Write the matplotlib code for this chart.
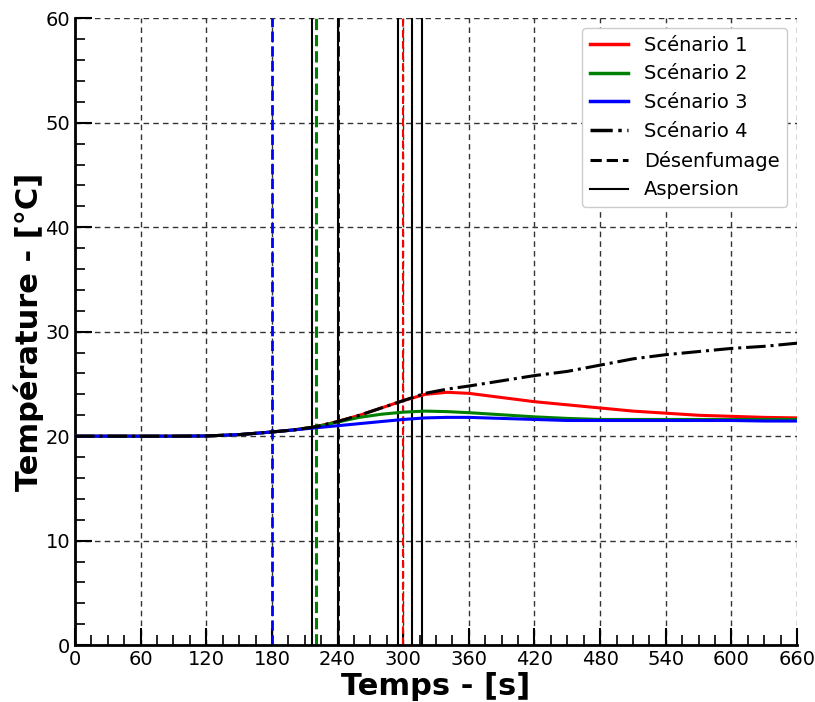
import matplotlib
matplotlib.use("Agg")
import matplotlib.pyplot as plt
import numpy as np
from matplotlib.ticker import MultipleLocator

# temps (s)
temps = [0, 30, 60, 90, 120, 150, 180, 200, 220, 240, 260, 280, 300, 320,
         340, 360, 390, 420, 450, 480, 510, 540, 570, 600, 630, 660]

# températures (°C)
scen1 = [20, 20, 20, 20, 20.02, 20.15, 20.4, 20.6, 20.9, 21.4, 22.0, 22.7, 23.4, 24.0,
         24.2, 24.1, 23.7, 23.3, 23.0, 22.7, 22.4, 22.2, 22.0, 21.9, 21.8, 21.75]
scen2 = [20, 20, 20, 20, 20.02, 20.15, 20.4, 20.6, 20.9, 21.35, 21.8, 22.1, 22.3, 22.4,
         22.35, 22.25, 22.05, 21.85, 21.7, 21.6, 21.6, 21.6, 21.6, 21.6, 21.6, 21.6]
scen3 = [20, 20, 20, 20, 20.02, 20.15, 20.4, 20.6, 20.8, 21.0, 21.2, 21.4, 21.6, 21.75,
         21.8, 21.8, 21.7, 21.6, 21.5, 21.5, 21.5, 21.5, 21.5, 21.5, 21.45, 21.45]
scen4 = [20, 20, 20, 20, 20.02, 20.15, 20.4, 20.6, 20.9, 21.4, 22.0, 22.7, 23.4, 24.1,
         24.5, 24.8, 25.3, 25.8, 26.2, 26.8, 27.4, 27.8, 28.1, 28.4, 28.6, 28.9]

# instants de désenfumage (s), couleurs et épaisseurs associées
t_desenf = [300, 220, 180, 240]
c_desenf = ['red', 'green', 'blue', 'black']
lw_desenf = [1.5, 2.2, 2, 2]
# instants d'aspersion (s)
t_asp = [217, 240, 295, 308, 317]

fig = plt.figure(figsize=(8.15, 7.02), dpi=100)
ax = fig.add_axes([0.092, 0.081, 0.886, 0.893])

for t in t_asp:
    ax.axvline(t, color='k', lw=1.5, zorder=2)
for t, c, w in zip(t_desenf, c_desenf, lw_desenf):
    ax.axvline(t, color=c, lw=w, ls='--', zorder=2)

ax.plot(temps, scen1, color='red', lw=2.2, zorder=3, label='Scénario 1')
ax.plot(temps, scen2, color='green', lw=2.2, zorder=3, label='Scénario 2')
ax.plot(temps, scen3, color='blue', lw=2.2, zorder=3, label='Scénario 3')
ax.plot(temps, scen4, color='k', lw=2.2, ls='-.', zorder=4, label='Scénario 4')
ax.plot([], [], color='k', lw=2.2, ls='--', label='Désenfumage')
ax.plot([], [], color='k', lw=1.5, label='Aspersion')

ax.set_xlim(0, 660)
ax.set_ylim(0, 60)
ax.xaxis.set_major_locator(MultipleLocator(60))
ax.xaxis.set_minor_locator(MultipleLocator(15))
ax.yaxis.set_major_locator(MultipleLocator(10))
ax.yaxis.set_minor_locator(MultipleLocator(2))

ax.grid(True, which='major', color='0.2', ls=(0, (4, 3)), lw=1, zorder=1)

ax.spines['top'].set_visible(False)
ax.spines['right'].set_visible(False)
ax.spines['left'].set_linewidth(2)
ax.spines['bottom'].set_linewidth(2)
ax.tick_params(which='major', direction='in', length=12, width=1.5, labelsize=14,
               top=False, right=False)
ax.tick_params(which='minor', direction='in', length=7, width=1.2,
               top=False, right=False)

ax.set_xlabel('Temps - [s]', fontsize=22, fontweight='bold', labelpad=2)
ax.set_ylabel('Température - [°C]', fontsize=22, fontweight='bold', labelpad=1)

leg = ax.legend(loc='upper right', fontsize=14, framealpha=1)
for h in leg.get_lines()[:4]:
    h.set_linewidth(2.5)

fig.savefig('out.png', dpi=100)
